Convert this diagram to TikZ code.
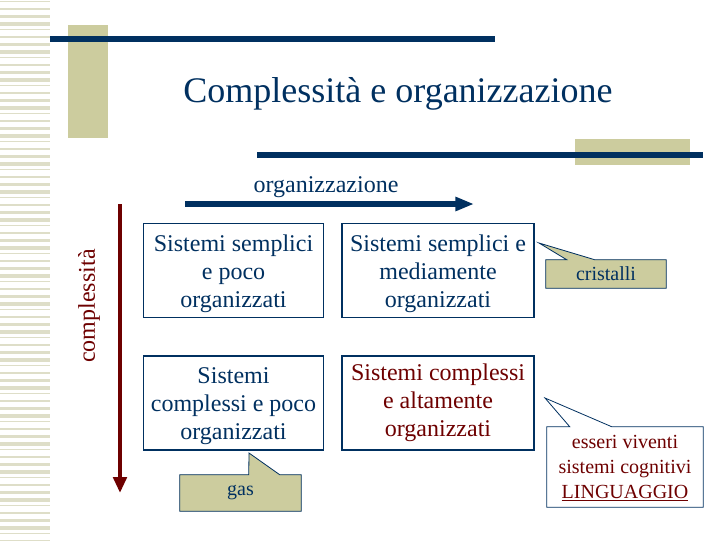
\documentclass[tikz,border=0pt]{standalone}
\usepackage{fontspec}
\setmainfont{Liberation Serif}
\usetikzlibrary{arrows.meta,calc}
\definecolor{navy}{RGB}{0,48,96}
\definecolor{dred}{RGB}{110,0,0}
\definecolor{beige}{RGB}{204,204,158}
\definecolor{stripe}{RGB}{222,222,200}
\tikzset{
  cell/.style={draw=navy, line width=0.8pt, minimum width=135pt, minimum height=70.5pt, inner sep=0pt},
  celltext/.style={align=center, inner sep=0pt, font=\fontsize{18}{21}\selectfont, text=navy},
  callbox/.style={fill=beige, draw=navy, line width=0.6pt},
  calltext/.style={font=\fontsize{15}{18.75}\selectfont, align=center, inner sep=0pt},
}
\begin{document}
\begin{tikzpicture}[x=0.75pt,y=-0.75pt]
\useasboundingbox (0,0) rectangle (720,540);
\fill[white] (0,0) rectangle (720,540);
% left stripes
\foreach \i in {0,...,77}{
  \pgfmathsetmacro{\t}{1.2+mod(\i*5,4)*0.9}
  \fill[stripe] (0,{\i*7+1}) rectangle (50,{\i*7+1+\t});
}
% decorative bars
\fill[beige] (68,25) rectangle (108,138);
\fill[navy] (50,35.5) rectangle (495,41.5);
\fill[beige] (575,139) rectangle (690,165);
\fill[navy] (257,151.5) rectangle (703,157.5);
% title
\node[text=navy, font=\fontsize{27}{32}\selectfont] (title) at (398,94) {Complessità e organizzazione};
% axes
\node[text=navy, font=\fontsize{18}{21}\selectfont] (org) at (326,187) {organizzazione};
\coordinate (oa) at (185,204);
\coordinate (ob) at (474,204);
\draw[navy, line width=3.8pt, -{Triangle[length=14pt,width=10pt]}] (oa) -- (ob);
\coordinate (ca) at (120,204);
\coordinate (cb) at (120,493);
\draw[dred, line width=3.6pt, -{Triangle[length=12pt,width=10pt]}] (ca) -- (cb);
\node[text=dred, rotate=90, font=\fontsize{18}{21}\selectfont] (cpl) at (89,306) {complessità};
% cells
\node[cell] (c11) at (233.5,270.5) {};
\node[cell, minimum width=144pt] (c12) at (438,270.5) {};
\node[cell] (c21) at (233.5,403) {};
\node[cell, minimum width=144pt] (c22) at (438,403) {};
\node[celltext] (t11) at ($(c11)+(0,3)$) {Sistemi semplici\\e poco\\organizzati};
\node[celltext] (t12) at ($(c12)+(0,3)$) {Sistemi semplici e\\mediamente\\organizzati};
\node[celltext] (t21) at ($(c21)+(0,3)$) {Sistemi\\complessi e poco\\organizzati};
\node[celltext, text=dred] (t22) at ($(c22)+(0,-0.5)$) {Sistemi complessi\\e altamente\\organizzati};
% callout cristalli
\node[minimum width=90pt, minimum height=21pt, inner sep=0pt] (cr) at (606,274) {};
\coordinate (crtip) at (539,243);
\fill[callbox] (cr.north west) -- ++(21,0) -- (crtip) -- ($(cr.north west)+(49,0)$) -- (cr.north east) -- (cr.south east) -- (cr.south west) -- cycle;
\node[calltext, text=navy] at (cr) {cristalli};
% callout esseri viventi
\node[minimum width=117pt, minimum height=60pt, inner sep=0pt] (ev) at (625,467) {};
\coordinate (evtip) at (545,398);
\fill[callbox, fill=white] (ev.north west) -- ++(23,0) -- (evtip) -- ($(ev.north west)+(65,0)$) -- (ev.north east) -- (ev.south east) -- (ev.south west) -- cycle;
\node[calltext, text=dred] at ($(ev)+(0,1)$) {esseri viventi\\sistemi cognitivi\\\underline{LINGUAGGIO}};
% callout gas
\node[minimum width=90.75pt, minimum height=27pt, inner sep=0pt] (gs) at (240.5,493) {};
\coordinate (gstip) at (249,453);
\fill[callbox] (gs.north west) -- ++(69,0) -- (gstip) -- ($(gs.north west)+(100,0)$) -- (gs.north east) -- (gs.south east) -- (gs.south west) -- cycle;
\node[calltext, text=navy] at (gs) {gas};
\end{tikzpicture}
\end{document}
